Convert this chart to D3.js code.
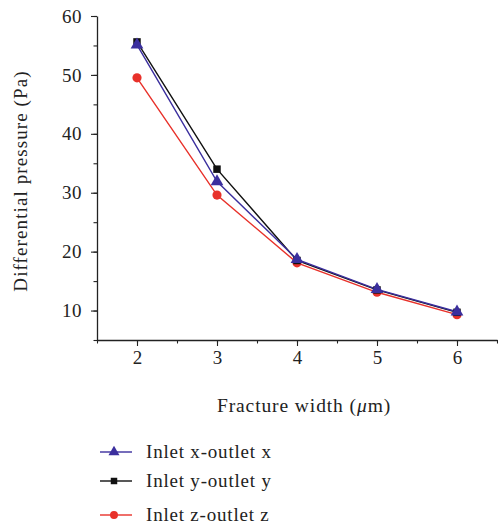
<!DOCTYPE html>
<html>
<head>
<meta charset="utf-8">
<script src="https://cdn.jsdelivr.net/npm/d3@7"></script>
<style>
  body { margin: 0; background: #fff; }
  svg text { font-family: "Liberation Serif", "DejaVu Serif", serif; fill: #222; }
</style>
</head>
<body>
<div id="chart"></div>
<script>
// fracture widths (um)
const widths = [2, 3, 4, 5, 6];
// differential pressure (Pa) for each inlet/outlet pair
const inletX = [55.1, 31.9, 18.7, 13.6, 9.8];
const inletY = [55.6, 34.0, 18.5, 13.5, 9.7];
const inletZ = [49.5, 29.6, 18.1, 13.1, 9.3];
const seriesNames = ["Inlet x-outlet x", "Inlet y-outlet y", "Inlet z-outlet z"];
const yTicks = [10, 20, 30, 40, 50, 60];
const xTicks = [2, 3, 4, 5, 6];

let margin = {top: 16, right: 1, bottom: 186, left: 97},
    width = 498 - margin.left - margin.right,
    height = 526 - margin.top - margin.bottom;

let svg = d3.select("#chart")
  .append("svg")
    .attr("width", 498)
    .attr("height", 526)
  .append("g")
    .attr("transform", "translate(" + margin.left + "," + margin.top + ")");

let x = d3.scaleLinear().domain([1.5, 6.5]).range([0, width]);
let y = d3.scaleLinear().domain([5, 60]).range([height, 0]);

// minor ticks first, then major ticks with labels
svg.append("g")
    .attr("transform", "translate(0," + height + ")")
    .call(d3.axisBottom(x).tickValues(d3.range(1.5, 6.51, 0.5)).tickSize(3.5).tickFormat(""))
    .call(g => g.select(".domain").remove());
let xAxis = svg.append("g")
    .attr("transform", "translate(0," + height + ")")
    .call(d3.axisBottom(x).tickValues(xTicks).tickSize(6).tickSizeOuter(0).tickPadding(5).tickFormat(d3.format("d")));
xAxis.selectAll("text").style("font-size", "19px");

svg.append("g")
    .call(d3.axisLeft(y).tickValues(d3.range(5, 60.1, 5)).tickSize(3.5).tickFormat(""))
    .call(g => g.select(".domain").remove());
let yAxis = svg.append("g")
    .call(d3.axisLeft(y).tickValues(yTicks).tickSize(6).tickSizeOuter(0).tickPadding(9).tickFormat(d3.format("d")));
yAxis.selectAll("text").style("font-size", "19px").style("letter-spacing", "0.5px");

svg.selectAll(".domain").attr("stroke", "#222").attr("stroke-width", 1.3);
svg.selectAll(".tick line").attr("stroke", "#222").attr("stroke-width", 1.1);

// axis titles
svg.append("text")
    .attr("x", 207)
    .attr("y", height + 72)
    .attr("text-anchor", "middle")
    .style("font-size", "19.5px")
    .style("letter-spacing", "0.9px")
    .html('Fracture width (<tspan font-style="italic">μ</tspan>m)');

svg.append("text")
    .attr("transform", "translate(" + (-70) + "," + 165 + ") rotate(-90)")
    .attr("text-anchor", "middle")
    .style("font-size", "19px")
    .style("letter-spacing", "1.1px")
    .text("Differential pressure (Pa)");

let series = [
  {name: seriesNames[0], values: inletX, color: "#3b2f9e", shape: d3.symbolTriangle, size: 70},
  {name: seriesNames[1], values: inletY, color: "#111111", shape: d3.symbolSquare, size: 56},
  {name: seriesNames[2], values: inletZ, color: "#e8312a", shape: d3.symbolCircle, size: 66}
];

let line = d3.line()
    .x((d, i) => x(widths[i]))
    .y(d => y(d));

// draw order: red, black, blue on top
[2, 1, 0].forEach(k => {
  let s = series[k];
  svg.append("path")
      .datum(s.values)
      .attr("fill", "none")
      .attr("stroke", s.color)
      .attr("stroke-width", 1.4)
      .attr("d", line);
});
[2, 1, 0].forEach(k => {
  let s = series[k];
  svg.append("g").selectAll("path")
    .data(s.values)
    .enter().append("path")
      .attr("transform", (d, i) => "translate(" + x(widths[i]) + "," + y(d) + ")")
      .attr("d", d3.symbol().type(s.shape).size(s.size))
      .attr("fill", s.color);
});

// legend
let legendY = [452, 481, 515];
let legend = d3.select("svg").append("g");
series.forEach((s, i) => {
  let g = legend.append("g").attr("transform", "translate(100," + legendY[i] + ")");
  g.append("line").attr("x1", 0).attr("x2", 32).attr("y1", 0).attr("y2", 0)
    .attr("stroke", s.color).attr("stroke-width", 1.4);
  g.append("path").attr("transform", "translate(14,0)")
    .attr("d", d3.symbol().type(s.shape).size(s.size * 0.75))
    .attr("fill", s.color);
  g.append("text").attr("x", 46).attr("y", 6)
    .style("font-size", "19px")
    .style("letter-spacing", "0.8px")
    .text(s.name);
});
</script>
</body>
</html>
